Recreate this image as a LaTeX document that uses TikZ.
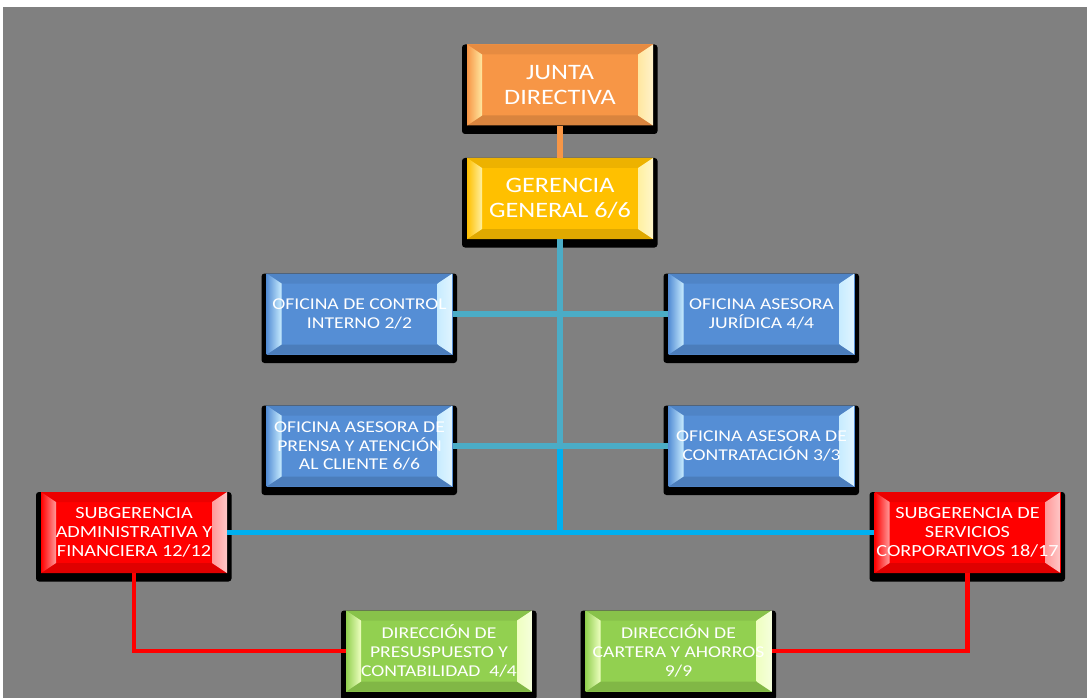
\documentclass[tikz,border=0pt]{standalone}
\usepackage{fontspec}
\setmainfont{Carlito}[FakeStretch=1.19]
\definecolor{bggray}{HTML}{808080}
\definecolor{orangeF}{HTML}{F79646}
\definecolor{orangeL}{HTML}{FFE7A0}
\definecolor{goldF}{HTML}{FFC000}
\definecolor{goldL}{HTML}{FFF0A0}
\definecolor{blueF}{HTML}{558ED5}
\definecolor{blueL}{HTML}{C8ECFF}
\definecolor{redF}{HTML}{FF0000}
\definecolor{redL}{HTML}{FF9A9A}
\definecolor{greenF}{HTML}{92D050}
\definecolor{greenL}{HTML}{EEFFC0}
\definecolor{lineblue}{HTML}{4BACC6}
\definecolor{brightblue}{HTML}{00B0F0}
\tikzset{
  orgbox/.style 2 args={minimum width=186pt, minimum height=81pt, inner sep=0pt,
    text=white, align=center, fill=#1,
    path picture={
      \fill[#1!93!black] (path picture bounding box.north west) -- (path picture bounding box.north east)
        -- ([shift={(-15pt,-10pt)}]path picture bounding box.north east)
        -- ([shift={(15pt,-10pt)}]path picture bounding box.north west) -- cycle;
      \fill[#1!88!black] (path picture bounding box.south west) -- (path picture bounding box.south east)
        -- ([shift={(-15pt,10pt)}]path picture bounding box.south east)
        -- ([shift={(15pt,10pt)}]path picture bounding box.south west) -- cycle;
      \shade[left color=#1, right color=#2] (path picture bounding box.north west)
        -- ([shift={(15pt,-10pt)}]path picture bounding box.north west)
        -- ([shift={(15pt,10pt)}]path picture bounding box.south west)
        -- (path picture bounding box.south west) -- cycle;
      \shade[left color=#2, right color=#2!55!white] (path picture bounding box.north east)
        -- ([shift={(-15pt,-10pt)}]path picture bounding box.north east)
        -- ([shift={(-15pt,10pt)}]path picture bounding box.south east)
        -- (path picture bounding box.south east) -- cycle;
    }},
  bigtext/.style={font=\fontsize{22}{24.5}\selectfont},
  midtext/.style={font=\fontsize{16.5}{18.6}\selectfont},
  redtext/.style={font=\fontsize{17}{19}\selectfont},
  conn/.style={line width=5.5pt},
  shadowbox/.style={fill=black, rounded corners=3pt}
}
\newcommand\orgnode[7]{%
  \fill[shadowbox] (#2-98,#3-40.5) rectangle (#2+97.5,#3+49);
  \node[orgbox={#4}{#5}, #6] (#1) at (#2,#3) {#7};
}
\begin{document}
\begin{tikzpicture}[x=1pt, y=-1pt]
\useasboundingbox (0,0) rectangle (1087,698);
\fill[white] (0,0) rectangle (1087,698);
\fill[bggray] (3,7) rectangle (1087,698);

\orgnode{junta}{560}{85}{orangeF}{orangeL}{bigtext}{JUNTA\\DIRECTIVA}
\orgnode{gerencia}{560}{198.5}{goldF}{goldL}{bigtext}{GERENCIA\\GENERAL 6/6}
\orgnode{control}{359.5}{314}{blueF}{blueL}{midtext}{OFICINA DE CONTROL\\INTERNO 2/2}
\orgnode{juridica}{761.5}{314}{blueF}{blueL}{midtext}{OFICINA ASESORA\\JURÍDICA 4/4}
\orgnode{prensa}{359.5}{446}{blueF}{blueL}{midtext}{OFICINA ASESORA DE\\PRENSA Y ATENCIÓN\\AL CLIENTE 6/6}
\orgnode{contratacion}{761.5}{446}{blueF}{blueL}{midtext}{OFICINA ASESORA DE\\CONTRATACIÓN 3/3}
\orgnode{subadmin}{134}{532.5}{redF}{redL}{redtext}{SUBGERENCIA\\ADMINISTRATIVA Y\\FINANCIERA 12/12}
\orgnode{subserv}{967.5}{532.5}{redF}{redL}{redtext}{SUBGERENCIA DE\\SERVICIOS\\CORPORATIVOS 18/17}
\orgnode{presupuesto}{439}{651}{greenF}{greenL}{midtext}{DIRECCIÓN DE\\PRESUSPUESTO Y\\CONTABILIDAD\ \ 4/4}
\orgnode{cartera}{678.5}{651}{greenF}{greenL}{midtext}{DIRECCIÓN DE\\CARTERA Y AHORROS\\9/9}

\draw[conn, orangeF] (junta.south) -- (gerencia.north);
\draw[conn, brightblue] (gerencia.south |- prensa.east) -- (gerencia.south |- subadmin.east);
\draw[conn, brightblue] (subadmin.east) -- (subserv.west);
\draw[conn, lineblue] (gerencia.south) -- (gerencia.south |- prensa.east);
\draw[conn, lineblue] (control.east) -- (juridica.west);
\draw[conn, lineblue] (prensa.east) -- (contratacion.west);
\draw[conn, redF, line width=4.5pt] (subadmin.south) -- (subadmin.south |- presupuesto.west) -- (presupuesto.west);
\draw[conn, redF, line width=4.5pt] (subserv.south) -- (subserv.south |- cartera.east) -- (cartera.east);
\end{tikzpicture}
\end{document}
